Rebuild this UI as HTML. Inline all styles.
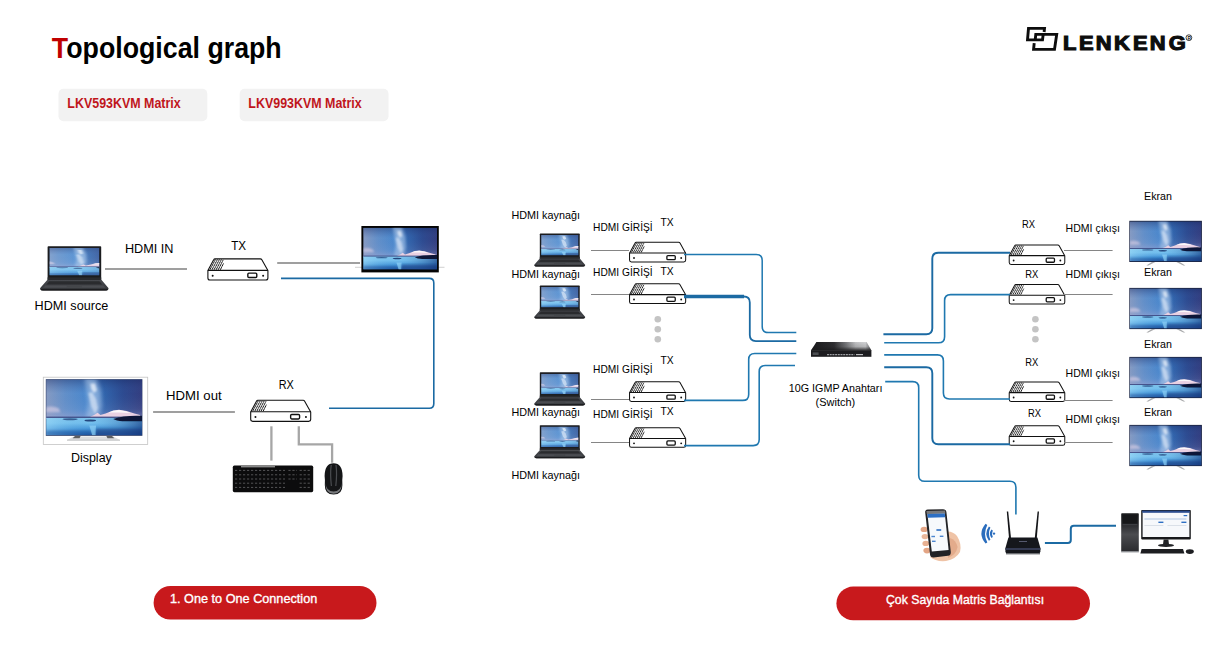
<!DOCTYPE html>
<html lang="tr"><head><meta charset="utf-8"><title>Topological graph</title>
<style>
html,body{margin:0;padding:0;background:#fff;}
body{width:1226px;height:670px;overflow:hidden;}
svg{display:block;font-family:"Liberation Sans",sans-serif;}
</style></head><body>
<svg width="1226" height="670" viewBox="0 0 1226 670">

<defs>
<linearGradient id="skyH" x1="0" y1="0" x2="1" y2="0">
 <stop offset="0" stop-color="#8a9ec4"/><stop offset="0.2" stop-color="#6492cb"/><stop offset="0.42" stop-color="#4b8acf"/><stop offset="0.6" stop-color="#3166ae"/><stop offset="0.8" stop-color="#2c4a90"/><stop offset="1" stop-color="#333c7e"/>
</linearGradient>
<linearGradient id="skyV" x1="0" y1="0" x2="0" y2="1">
 <stop offset="0" stop-color="#1a2c66" stop-opacity="0.45"/><stop offset="0.35" stop-color="#3a5aa0" stop-opacity="0.05"/><stop offset="0.75" stop-color="#8f9ccc" stop-opacity="0.15"/><stop offset="1" stop-color="#b3add6" stop-opacity="0.5"/>
</linearGradient>
<linearGradient id="water" x1="0" y1="0" x2="0" y2="1">
 <stop offset="0" stop-color="#7fc4ec"/><stop offset="0.3" stop-color="#74c0ee"/><stop offset="0.65" stop-color="#4595d8"/><stop offset="1" stop-color="#1d4f9a"/>
</linearGradient>
<linearGradient id="waterH" x1="0" y1="0" x2="1" y2="0">
 <stop offset="0" stop-color="#a5e0fa" stop-opacity="0.5"/><stop offset="0.45" stop-color="#5aa6de" stop-opacity="0"/><stop offset="1" stop-color="#14367c" stop-opacity="0.65"/>
</linearGradient>
<filter id="b1" x="-40%" y="-40%" width="180%" height="180%"><feGaussianBlur stdDeviation="2.4"/></filter>
<filter id="b2" x="-20%" y="-20%" width="140%" height="140%"><feGaussianBlur stdDeviation="0.6"/></filter>
<filter id="b3" x="-30%" y="-30%" width="160%" height="160%"><feGaussianBlur stdDeviation="1.2"/></filter>
<clipPath id="scClip"><rect x="0" y="0" width="100" height="58"/></clipPath>
<symbol id="scene" viewBox="0 0 100 58" preserveAspectRatio="none">
 <g clip-path="url(#scClip)">
 <rect width="100" height="41" fill="url(#skyH)"/>
 <rect width="100" height="41" fill="url(#skyV)"/>
 <path d="M40,-2 L52,-2 L57,12 L58,28 L54,40 L42,40 L44,24 L42,10 Z" fill="#b8d2f0" opacity="0.55" filter="url(#b1)"/>
 <path d="M46,4 L51,4 L53,11 L50,14 L47,10 Z" fill="#eef4fc" opacity="0.75" filter="url(#b3)"/>
 <path d="M44,14 L48,13 L52,20 L54,30 L51,36 L47,28 Z" fill="#e6eefa" opacity="0.6" filter="url(#b3)"/>
 <path d="M0,29 Q6,26.5 13,30 L15,34 L0,34 Z" fill="#ddd0e6" opacity="0.6" filter="url(#b3)"/>
 <path d="M46,38.8 L50,37 L53.6,34.6 L56.6,37 L62,35.4 L70,32.2 L76,31.4 L84,32.8 L92,35.4 L98,37 L98,39.6 L46,39.6 Z" fill="#e9d0e2" filter="url(#b2)"/>
 <path d="M65,34.4 L70,32.4 L76,31.8 L83,33 L88,34.8 L76,34.2 Z" fill="#ffffff" opacity="0.85" filter="url(#b2)"/>
 <rect y="38.6" width="100" height="1.9" fill="#39467f" opacity="0.9"/>
 <rect y="40" width="100" height="18" fill="url(#water)"/>
 <rect y="40" width="100" height="18" fill="url(#waterH)"/>
 <path d="M70,41 Q82,37 100,37.8 L100,43.4 L80,43.4 Q73,43 70,41 Z" fill="#0d1838" filter="url(#b2)"/>
 <ellipse cx="46" cy="42.6" rx="6" ry="1" fill="#1b3a72" opacity="0.9"/>
 <ellipse cx="25" cy="41.4" rx="8" ry="1" fill="#24477f" opacity="0.8"/>
 <path d="M45,48 L52,48 L51.6,58 L48,58 Z" fill="#8fd2f7" opacity="0.7" filter="url(#b2)"/>
 <path d="M52,51 H100 V58 H52 Z" fill="#123679" opacity="0.5" filter="url(#b3)"/>
 <path d="M0,53 H46 V58 H0 Z" fill="#1f5aa6" opacity="0.45" filter="url(#b3)"/>
 </g>
</symbol>

<symbol id="dev" viewBox="0 0 62 22.4" overflow="visible">
 <path d="M8,0.6 H53.6 Q54.6,0.6 55.1,1.5 L61.2,12.4 V19.8 Q61.2,21.8 59.2,21.8 H2.8 Q0.8,21.8 0.8,19.8 V12.4 L6.6,1.6 Q7.1,0.6 8,0.6 Z" fill="#fff" stroke="#111" stroke-width="1.1" stroke-linejoin="round"/>
 <path d="M0.8,12.2 H61.2" stroke="#111" stroke-width="1.1" fill="none"/>
 <g stroke="#111" stroke-width="1" fill="none">
  <path d="M2.8,11.6 L8.4,1.2"/><path d="M4.9,11.6 L10.4,1.2"/><path d="M7,11.6 L12.4,1.2"/><path d="M9.1,11.6 L14.4,1.2"/><path d="M11.2,11.6 L16.2,1.6"/><path d="M13.3,11.6 L16.6,5"/>
 </g>
 <g stroke="#fff" stroke-width="0.5" fill="none" opacity="0.8"><path d="M4,8.6 H16"/><path d="M5.6,5.6 H17"/><path d="M7,3 H17"/></g>
 <rect x="41" y="14.9" width="9" height="4.5" rx="1.1" fill="#fff" stroke="#111" stroke-width="1.4"/>
 <circle cx="5.6" cy="17.5" r="1" fill="#111"/>
 <circle cx="56.4" cy="17.5" r="1" fill="#111"/>
</symbol>

<linearGradient id="lapBase" x1="0" y1="0" x2="0" y2="1"><stop offset="0" stop-color="#47494e"/><stop offset="0.75" stop-color="#3a3c40"/><stop offset="1" stop-color="#1e1f22"/></linearGradient>
<symbol id="laptop" viewBox="0 0 69 45" overflow="visible">
 <path d="M8.6,0.4 H60.6 Q61.4,0.4 61.4,1.2 V34.5 H7.8 V1.2 Q7.8,0.4 8.6,0.4 Z" fill="#1b1c1f"/>
 <svg x="9.8" y="2.2" width="49.6" height="27.6" viewBox="0 0 100 58" preserveAspectRatio="none">
  <use href="#scene" x="-12" y="0" width="150" height="58"/>
  <rect width="100" height="58" fill="#cfe8ff" opacity="0.14"/>
 </svg>
 <rect x="7.8" y="31.6" width="53.6" height="3" fill="#2a2b2e"/>
 <path d="M7.4,34.3 H61.8 L68.6,42.2 Q69,43 68.4,43.6 Q67.6,44.8 65.6,44.8 H3.4 Q1.4,44.8 0.6,43.6 Q0,43 0.4,42.2 Z" fill="url(#lapBase)"/>
 <path d="M9.4,35.4 H59.6 L62.4,38.6 H6.6 Z" fill="#2a2b2e"/>
 <path d="M5.6,39.6 H63.4 L65.6,42 H3.4 Z" fill="#55575c" opacity="0.6"/>
 <rect x="27" y="39.8" width="15" height="2" rx="0.6" fill="#44464a"/>
 <path d="M0.6,43.4 Q1.4,44.8 3.4,44.8 H65.6 Q67.6,44.8 68.4,43.4 Z" fill="#18191b"/>
</symbol>

<symbol id="tv" viewBox="0 0 72.6 45" overflow="visible">
 <rect x="0" y="0" width="72.6" height="41.2" fill="#1c2440"/>
 <use href="#scene" x="0.5" y="0.7" width="71.6" height="39.8"/>
 <path d="M17,44.6 L22.6,41.2 L26,41.2 L19,44.6 Z" fill="#a9aaac"/>
 <path d="M56,44.6 L50.4,41.2 L47,41.2 L54,44.6 Z" fill="#a9aaac"/>
</symbol>
</defs>

<text x="51.85" y="58.4" font-size="30" font-weight="bold" fill="#000" textLength="229.85" lengthAdjust="spacingAndGlyphs"><tspan fill="#c00000">T</tspan>opological graph</text>
<rect x="58.5" y="88.7" width="148.8" height="32.6" rx="5" fill="#f2f2f2"/>
<rect x="239.7" y="88.7" width="148.8" height="32.6" rx="5" fill="#f2f2f2"/>
<text x="67.37" y="108.4" font-size="14" font-weight="bold" fill="#c0161c" textLength="113.33" lengthAdjust="spacingAndGlyphs">LKV593KVM Matrix</text>
<text x="248.37" y="108.4" font-size="14" font-weight="bold" fill="#c0161c" textLength="113.33" lengthAdjust="spacingAndGlyphs">LKV993KVM Matrix</text>
<g fill="none" stroke="#0d0d0d" stroke-width="2.9" stroke-linejoin="miter">
 <path d="M1044.1,32 L1044.5,28.35 H1028.5 L1027.5,39.85 H1042.5 L1043.2,34.4"/>
 <path d="M1034.2,43.2 L1033.6,49.35 H1054.5 L1056.7,34.4 H1035.8 L1035.2,40"/>
</g>
<text transform="translate(1064,50.45) scale(1.13,1)" x="-0.91 13.25 28.11 44.22 61.03 75.90 92.65" y="0" font-size="19.4" font-weight="bold" fill="#0d0d0d" stroke="#0d0d0d" stroke-width="1.1" stroke-linejoin="miter">LENKENG</text>
<circle cx="1188.9" cy="37.7" r="2.9" fill="none" stroke="#111" stroke-width="0.8"/>
<text x="1187.4" y="39.5" font-size="4.8" font-weight="bold" fill="#111">R</text>
<use href="#laptop" x="39.7" y="245.8" width="69.2" height="45"/>
<text x="124.93" y="253" font-size="12.6" font-weight="normal" fill="#000" textLength="48.6" lengthAdjust="spacingAndGlyphs">HDMI IN</text>
<path d="M105,268.9 H187" stroke="#7f7f7f" stroke-width="1.5"/>
<text x="34.63" y="309.8" font-size="12.6" font-weight="normal" fill="#000" textLength="73.6" lengthAdjust="spacingAndGlyphs">HDMI source</text>
<text x="231.23" y="250.2" font-size="12.6" font-weight="normal" fill="#000" textLength="14.9" lengthAdjust="spacingAndGlyphs">TX</text>
<use href="#dev" x="207.1" y="258.2" width="61.6" height="22.4"/>
<path d="M277.2,262.9 H360" stroke="#7f7f7f" stroke-width="1.5"/>
<path d="M355,267.3 H444.5" stroke="#bdbdbd" stroke-width="0.7"/>
<rect x="361.4" y="226" width="77.4" height="46.4" fill="#050505"/>
<use href="#scene" x="363.2" y="227.8" width="73.8" height="41.8"/>
<path d="M281,278.4 L429.30,278.40 Q433.8,278.4 433.80,282.90 L433.80,403.70 Q433.8,408.2 429.30,408.20 L329,408.2" fill="none" stroke="#1b6aa3" stroke-width="1.6"/>
<rect x="43.3" y="377.2" width="104.4" height="67.2" fill="#fff" stroke="#c4c4c4" stroke-width="0.8"/>
<rect x="45.8" y="379.2" width="96.6" height="56.6" fill="#2b3a63"/>
<use href="#scene" x="46.2" y="379.6" width="95.8" height="55.6"/>
<path d="M67,440 L73.6,436.4 H113.4 L120,440 Z" fill="#dcdddf"/><path d="M67,440.2 H120" stroke="#b9babc" stroke-width="0.9"/><path d="M72.6,438.2 L75,436 H80.6 L79.6,438.2 Z" fill="#5d5e60"/><path d="M114.4,438.2 L112,436 H106.4 L107.4,438.2 Z" fill="#5d5e60"/>
<text x="166.03" y="399.8" font-size="12.6" font-weight="normal" fill="#000" textLength="55.6" lengthAdjust="spacingAndGlyphs">HDMI out</text>
<path d="M153.1,411.9 H234.9" stroke="#7f7f7f" stroke-width="1.5"/>
<text x="70.93" y="461.8" font-size="12.6" font-weight="normal" fill="#000" textLength="40.9" lengthAdjust="spacingAndGlyphs">Display</text>
<text x="278.63" y="388.9" font-size="12.6" font-weight="normal" fill="#000" textLength="15.1" lengthAdjust="spacingAndGlyphs">RX</text>
<use href="#dev" x="249.9" y="399.6" width="61.6" height="22.4"/>
<path d="M271.4,426.3 V460.6" stroke="#a6a6a6" stroke-width="2.3" fill="none"/>
<path d="M298.8,426.3 V444.3 H332.1 V462.7" stroke="#a6a6a6" stroke-width="2.3" fill="none"/>
<g>
<rect x="232.8" y="465.6" width="80.4" height="26.6" rx="1.6" fill="#0c0c0d"/>
<rect x="241" y="465.8" width="34" height="1.6" fill="#8a8a8a"/>
<g stroke="#5c5c5f" stroke-width="0.9" stroke-dasharray="2.2 1.8" fill="none">
<path d="M235,470.4 H285"/><path d="M235,474.8 H285"/><path d="M235,479 H285"/><path d="M235,483.2 H285"/><path d="M235,487.4 H285"/>
<path d="M288.4,474.8 H297"/><path d="M288.4,479 H297"/><path d="M288.4,470.4 H297"/>
<path d="M299.6,474.8 H311"/><path d="M299.6,479 H311"/><path d="M299.6,483.2 H311"/><path d="M299.6,487.4 H311"/><path d="M299.6,470.4 H311"/>
</g></g>
<g><path d="M324.6,476 Q324.8,463.2 333.6,463.2 Q342.4,463.2 342.6,476 Q342,480 342.4,485 Q342.6,494.6 333.6,494.6 Q324.6,494.6 324.8,485 Q325.2,480 324.6,476 Z" fill="#141517"/>
<path d="M325.6,483 Q325.4,493.8 333.6,493.8 Q341.8,493.8 341.6,483 Q341,491.6 333.6,491.6 Q326.2,491.6 325.6,483 Z" fill="#77797c"/>
<path d="M331.2,465 Q330,474 331.4,486" stroke="#4a4c50" stroke-width="1.2" fill="none"/><path d="M336,465 Q337.2,474 335.8,486" stroke="#4a4c50" stroke-width="1.2" fill="none"/></g>
<rect x="153.6" y="586" width="222.9" height="33.6" rx="16.8" fill="#c8191c"/>
<text x="170.02" y="603" font-size="12.8" font-weight="normal" fill="#fff" textLength="147.22" lengthAdjust="spacingAndGlyphs" stroke="#fff" stroke-width="0.35">1. One to One Connection</text>
<use href="#laptop" x="534" y="233.2" width="51.4" height="33.6"/>
<use href="#laptop" x="534" y="285.2" width="51.4" height="33.6"/>
<use href="#laptop" x="534" y="372" width="51.4" height="33.6"/>
<use href="#laptop" x="534" y="424.8" width="51.4" height="33.6"/>
<text x="511.52" y="218.8" font-size="10.6" font-weight="normal" fill="#000" textLength="68.41" lengthAdjust="spacingAndGlyphs">HDMI kaynağı</text>
<text x="511.52" y="277.8" font-size="10.6" font-weight="normal" fill="#000" textLength="68.41" lengthAdjust="spacingAndGlyphs">HDMI kaynağı</text>
<text x="511.52" y="415.7" font-size="10.6" font-weight="normal" fill="#000" textLength="68.41" lengthAdjust="spacingAndGlyphs">HDMI kaynağı</text>
<text x="511.52" y="478.9" font-size="10.6" font-weight="normal" fill="#000" textLength="68.41" lengthAdjust="spacingAndGlyphs">HDMI kaynağı</text>
<text x="593.12" y="231" font-size="10.6" font-weight="normal" fill="#000" textLength="59.51" lengthAdjust="spacingAndGlyphs">HDMI GİRİŞİ</text>
<text x="593.12" y="275.7" font-size="10.6" font-weight="normal" fill="#000" textLength="59.51" lengthAdjust="spacingAndGlyphs">HDMI GİRİŞİ</text>
<text x="593.12" y="372.9" font-size="10.6" font-weight="normal" fill="#000" textLength="59.51" lengthAdjust="spacingAndGlyphs">HDMI GİRİŞİ</text>
<text x="593.12" y="417.7" font-size="10.6" font-weight="normal" fill="#000" textLength="59.51" lengthAdjust="spacingAndGlyphs">HDMI GİRİŞİ</text>
<text x="660.52" y="226" font-size="10.6" font-weight="normal" fill="#000" textLength="13.11" lengthAdjust="spacingAndGlyphs">TX</text>
<text x="660.52" y="274.8" font-size="10.6" font-weight="normal" fill="#000" textLength="13.11" lengthAdjust="spacingAndGlyphs">TX</text>
<text x="660.52" y="363.5" font-size="10.6" font-weight="normal" fill="#000" textLength="13.11" lengthAdjust="spacingAndGlyphs">TX</text>
<text x="660.52" y="414.6" font-size="10.6" font-weight="normal" fill="#000" textLength="13.11" lengthAdjust="spacingAndGlyphs">TX</text>
<path d="M591,250.5 H629" stroke="#858585" stroke-width="1"/>
<path d="M591,294.5 H629" stroke="#858585" stroke-width="1"/>
<path d="M591,399.5 H629" stroke="#858585" stroke-width="1"/>
<path d="M591,442.5 H629" stroke="#858585" stroke-width="1"/>
<use href="#dev" x="628.8" y="241.6" width="57.6" height="21"/>
<use href="#dev" x="628.8" y="283.2" width="57.6" height="21"/>
<use href="#dev" x="628.8" y="381.1" width="57.6" height="21"/>
<use href="#dev" x="628.8" y="427" width="57.6" height="21"/>
<path d="M684,254.4 L756.20,254.40 Q762.2,254.4 762.20,260.40 L762.20,326.60 Q762.2,332.6 768.20,332.60 L796.3,332.6" fill="none" stroke="#1f78b0" stroke-width="1.5"/>
<path d="M684,296.5 L743.80,296.50 Q749.8,296.5 749.80,302.50 L749.80,335.10 Q749.8,341.1 755.80,341.10 L796.3,341.1" fill="none" stroke="#1b6aa3" stroke-width="1.8"/>
<path d="M684,296.5 H744" stroke="#1b6aa3" stroke-width="3.4" fill="none"/>
<path d="M684,400.4 L742.70,400.40 Q748.7,400.4 748.70,394.40 L748.70,359.50 Q748.7,353.5 754.70,353.50 L796.3,353.5" fill="none" stroke="#1f78b0" stroke-width="1.6"/>
<path d="M684,445.6 L753.20,445.60 Q759.2,445.6 759.20,439.60 L759.20,371.50 Q759.2,365.5 765.20,365.50 L795,365.5" fill="none" stroke="#1f78b0" stroke-width="1.6"/>
<circle cx="657.8" cy="319.2" r="3.3" fill="#c4c4c4"/>
<circle cx="1035.4" cy="319.2" r="3.3" fill="#c4c4c4"/>
<circle cx="657.8" cy="329.2" r="3.3" fill="#c4c4c4"/>
<circle cx="1035.4" cy="329.2" r="3.3" fill="#c4c4c4"/>
<circle cx="657.8" cy="339.2" r="3.3" fill="#c4c4c4"/>
<circle cx="1035.4" cy="339.2" r="3.3" fill="#c4c4c4"/>
<linearGradient id="swTop" x1="0" y1="0" x2="1" y2="0"><stop offset="0" stop-color="#19191b"/><stop offset="0.38" stop-color="#2e2e31"/><stop offset="0.58" stop-color="#77787b"/><stop offset="0.74" stop-color="#c0c1c3"/><stop offset="0.9" stop-color="#d2d3d5"/><stop offset="1" stop-color="#6c6d70"/></linearGradient>
<linearGradient id="swTopV" x1="0" y1="0" x2="0" y2="1"><stop offset="0" stop-color="#1b1b1d" stop-opacity="0"/><stop offset="0.55" stop-color="#1b1b1d" stop-opacity="0.15"/><stop offset="1" stop-color="#1b1b1d" stop-opacity="0.9"/></linearGradient>
<path d="M816.4,342 H866.6 L871.4,350.6 H811 Z" fill="url(#swTop)"/>
<path d="M816.4,342 H866.6 L871.4,350.6 H811 Z" fill="url(#swTopV)"/>
<rect x="811" y="350.2" width="60.4" height="6.6" fill="#1c1c1f"/>
<path d="M827,354.6 H854.4" stroke="#9b9da1" stroke-width="1.3" stroke-dasharray="2 0.7"/>
<path d="M856,354.6 H863" stroke="#b9babd" stroke-width="1.2"/>
<rect x="812.6" y="352.4" width="6" height="2.6" fill="#4b4d51"/>
<text x="788.82" y="391.9" font-size="10.6" font-weight="normal" fill="#000" textLength="93.61" lengthAdjust="spacingAndGlyphs">10G IGMP Anahtarı</text>
<text x="815.62" y="405.8" font-size="10.6" font-weight="normal" fill="#000" textLength="39.51" lengthAdjust="spacingAndGlyphs">(Switch)</text>
<use href="#dev" x="1008.2" y="244.4" width="57.6" height="20.6"/>
<use href="#dev" x="1008.2" y="284" width="57.6" height="20.6"/>
<use href="#dev" x="1008.2" y="381.4" width="57.6" height="20.6"/>
<use href="#dev" x="1008.2" y="425.2" width="57.6" height="20.6"/>
<path d="M883.4,334.2 L926.30,334.20 Q932.3,334.2 932.30,328.20 L932.30,258.80 Q932.3,252.8 938.30,252.80 L1010,252.8" fill="none" stroke="#1b6aa3" stroke-width="1.9"/>
<path d="M884.2,342.8 L938.60,342.80 Q944.6,342.8 944.60,336.80 L944.60,300.60 Q944.6,294.6 950.60,294.60 L1010,294.6" fill="none" stroke="#1f78b0" stroke-width="1.6"/>
<path d="M884.2,354.9 L937.40,354.90 Q943.4,354.9 943.40,360.90 L943.40,393.00 Q943.4,399 949.40,399.00 L1010,399" fill="none" stroke="#1f78b0" stroke-width="1.6"/>
<path d="M884.2,367.2 L926.30,367.20 Q932.3,367.2 932.30,373.20 L932.30,438.20 Q932.3,444.2 938.30,444.20 L1010,444.2" fill="none" stroke="#1b6aa3" stroke-width="1.9"/>
<path d="M885.2,381.6 L912.70,381.60 Q918.7,381.6 918.70,387.60 L918.70,475.30 Q918.7,481.3 924.70,481.30 L1009.90,481.30 Q1015.9,481.3 1015.90,487.30 L1015.9,514.5" fill="none" stroke="#1f78b0" stroke-width="1.6"/>
<path d="M1064,250.5 H1112.6" stroke="#858585" stroke-width="1"/>
<path d="M1064,294.5 H1112.6" stroke="#858585" stroke-width="1"/>
<path d="M1064,400.5 H1112.6" stroke="#858585" stroke-width="1"/>
<path d="M1064,442.5 H1112.6" stroke="#858585" stroke-width="1"/>
<text x="1022.02" y="227.7" font-size="10.6" font-weight="normal" fill="#000" textLength="13.01" lengthAdjust="spacingAndGlyphs">RX</text>
<text x="1025.32" y="277.8" font-size="10.6" font-weight="normal" fill="#000" textLength="13.01" lengthAdjust="spacingAndGlyphs">RX</text>
<text x="1025.32" y="365.8" font-size="10.6" font-weight="normal" fill="#000" textLength="13.01" lengthAdjust="spacingAndGlyphs">RX</text>
<text x="1028.02" y="416.9" font-size="10.6" font-weight="normal" fill="#000" textLength="13.01" lengthAdjust="spacingAndGlyphs">RX</text>
<text x="1065.62" y="232" font-size="10.6" font-weight="normal" fill="#000" textLength="54.31" lengthAdjust="spacingAndGlyphs">HDMI çıkışı</text>
<text x="1065.62" y="277.8" font-size="10.6" font-weight="normal" fill="#000" textLength="54.31" lengthAdjust="spacingAndGlyphs">HDMI çıkışı</text>
<text x="1065.62" y="377" font-size="10.6" font-weight="normal" fill="#000" textLength="54.31" lengthAdjust="spacingAndGlyphs">HDMI çıkışı</text>
<text x="1065.62" y="422.9" font-size="10.6" font-weight="normal" fill="#000" textLength="54.31" lengthAdjust="spacingAndGlyphs">HDMI çıkışı</text>
<text x="1144.02" y="200.2" font-size="10.6" font-weight="normal" fill="#000" textLength="27.91" lengthAdjust="spacingAndGlyphs">Ekran</text>
<text x="1144.02" y="276.3" font-size="10.6" font-weight="normal" fill="#000" textLength="27.91" lengthAdjust="spacingAndGlyphs">Ekran</text>
<text x="1144.02" y="347.9" font-size="10.6" font-weight="normal" fill="#000" textLength="27.91" lengthAdjust="spacingAndGlyphs">Ekran</text>
<text x="1144.02" y="416.2" font-size="10.6" font-weight="normal" fill="#000" textLength="27.91" lengthAdjust="spacingAndGlyphs">Ekran</text>
<use href="#tv" x="1129.3" y="220.8" width="72.6" height="45"/>
<use href="#tv" x="1129.3" y="287.9" width="72.6" height="45"/>
<use href="#tv" x="1129.3" y="356.9" width="72.6" height="45"/>
<use href="#tv" x="1129.3" y="424.9" width="72.6" height="45"/>
<g>
<path d="M944,532 Q952,530 957,536 Q962,544 960,552 Q956,559 946,561 Q936,562 930,557 L944,548 Z" fill="#efc3a6"/>
<path d="M950,538 Q956,540 957.6,547 Q956,555 948,558 Z" fill="#e3ab8b"/>
<ellipse cx="924.2" cy="529.4" rx="3.6" ry="2.6" fill="#e3a585"/>
<ellipse cx="925" cy="536.6" rx="3.4" ry="2.6" fill="#eab79a"/>
<ellipse cx="925.8" cy="543.4" rx="3.4" ry="2.6" fill="#e8b192"/>
<ellipse cx="927" cy="550.6" rx="3.6" ry="2.8" fill="#e3a585"/>
<path d="M925.2,512.6 Q924.8,509.6 927.8,509.4 L943,509.2 Q946,509.2 946.4,512 L950.8,552 Q951,555.4 948,555.8 L933.6,557.4 Q930.4,557.6 930,554.4 Z" fill="#222225"/>
<path d="M926.4,511 L945,510.4 L945.4,513.4 L926.8,514 Z" fill="#77787b"/>
<path d="M927.4,514 L944.8,513.6 L948.6,550 L931.8,551.4 Z" fill="#f7f9fc"/>
<path d="M927.4,514 L944.8,513.6 L945.2,517.2 L927.8,517.8 Z" fill="#2d6fc4"/>
<rect x="936.4" y="529.2" width="4.8" height="1.6" fill="#2d6fc4"/><rect x="931.4" y="535.8" width="3.6" height="1.4" fill="#4d86d0"/><rect x="939.8" y="535.6" width="3.6" height="1.4" fill="#4d86d0"/><rect x="932" y="540.6" width="3.6" height="1.4" fill="#4d86d0"/>
</g>
<g fill="#2a6dbd">
<path d="M985.6,523.8 Q977.2,533.7 985.6,543.6 L987.3,542.5 Q982.8,533.7 987.3,524.9 Z"/>
<path d="M988.9,526.6 Q983.7,533.7 988.9,540.8 L990.4,539.8 Q987.6,533.7 990.4,527.6 Z"/>
<path d="M991.5,529.5 Q988.3,533.7 991.5,537.9 L992.8,537 Q991.2,533.7 992.8,530.4 Z"/>
<circle cx="994" cy="533.6" r="1.2"/>
</g>
<g>
<path d="M1006.8,511.6 L1008.2,511.6 L1011,538 L1009,538 Z" fill="#141518"/>
<path d="M1037.6,511.6 L1039,511.6 L1036.8,538 L1034.8,538 Z" fill="#141518"/>
<path d="M1008.4,537.6 H1037.4 L1040.4,548 V551.6 Q1040.4,553.4 1038.6,553.4 H1007.2 Q1005.4,553.4 1005.4,551.6 V548 Z" fill="#15171c"/>
<path d="M1005.4,548 H1040.4 V550 H1005.4 Z" fill="#343a52"/>
<rect x="1006" y="553" width="34" height="1.4" fill="#6a6c70"/>
<rect x="1019" y="541" width="8" height="1" fill="#565a6e"/>
</g>
<path d="M1044.9,543 L1067.80,543.00 Q1070.8,543 1070.80,540.00 L1070.80,528.70 Q1070.8,525.7 1073.80,525.70 L1116,525.7" fill="none" stroke="#1b6aa3" stroke-width="2"/>
<g>
<linearGradient id="tw" x1="0" y1="0" x2="0" y2="1"><stop offset="0" stop-color="#1a1b1d"/><stop offset="0.3" stop-color="#2a2b2e"/><stop offset="0.55" stop-color="#4b4c50"/><stop offset="1" stop-color="#2a2b2e"/></linearGradient><rect x="1121.2" y="513.2" width="17.6" height="38.4" rx="0.8" fill="url(#tw)"/>
<rect x="1122.6" y="515" width="14.8" height="8.6" fill="#161719"/>
<rect x="1122.6" y="524" width="14.8" height="1.2" fill="#3c3e42"/>
<rect x="1121.2" y="551" width="17.6" height="1.4" fill="#8d8f93"/>
<rect x="1141.2" y="510" width="49.6" height="29.4" rx="0.8" fill="#17181b"/>
<rect x="1142.6" y="511.4" width="46.8" height="25.6" fill="#f6f8fb"/>
<rect x="1142.2" y="510.6" width="47.6" height="2.2" fill="#2b4d8f"/>
<rect x="1144.4" y="518.6" width="42" height="0.8" fill="#9fb7dc"/>
<rect x="1158.4" y="521.6" width="5" height="1.4" fill="#2d6fc4"/><rect x="1181.4" y="521.6" width="5" height="1.4" fill="#2d6fc4"/><rect x="1183.6" y="515" width="3.6" height="1.2" fill="#2d6fc4"/>
<rect x="1144.4" y="525.4" width="19" height="0.6" fill="#c9d1dc"/><rect x="1167.4" y="525.4" width="19" height="0.6" fill="#c9d1dc"/>
<path d="M1163.6,539.4 H1168.4 L1169,544.4 H1163 Z" fill="#232427"/>
<ellipse cx="1166" cy="545.4" rx="8" ry="1.6" fill="#232427"/>
<path d="M1141.6,549 H1183 L1184.4,553.6 H1140.4 Z" fill="#1d1e21"/>
<ellipse cx="1189.8" cy="551.6" rx="4" ry="2.4" fill="#1d1e21"/>
</g>
<rect x="836.4" y="586.6" width="253.6" height="33.6" rx="16.8" fill="#c8191c"/>
<text x="886.02" y="603.7" font-size="12.8" font-weight="normal" fill="#fff" textLength="158.02" lengthAdjust="spacingAndGlyphs" stroke="#fff" stroke-width="0.35">Çok Sayıda Matris Bağlantısı</text>
</svg>
</body></html>
